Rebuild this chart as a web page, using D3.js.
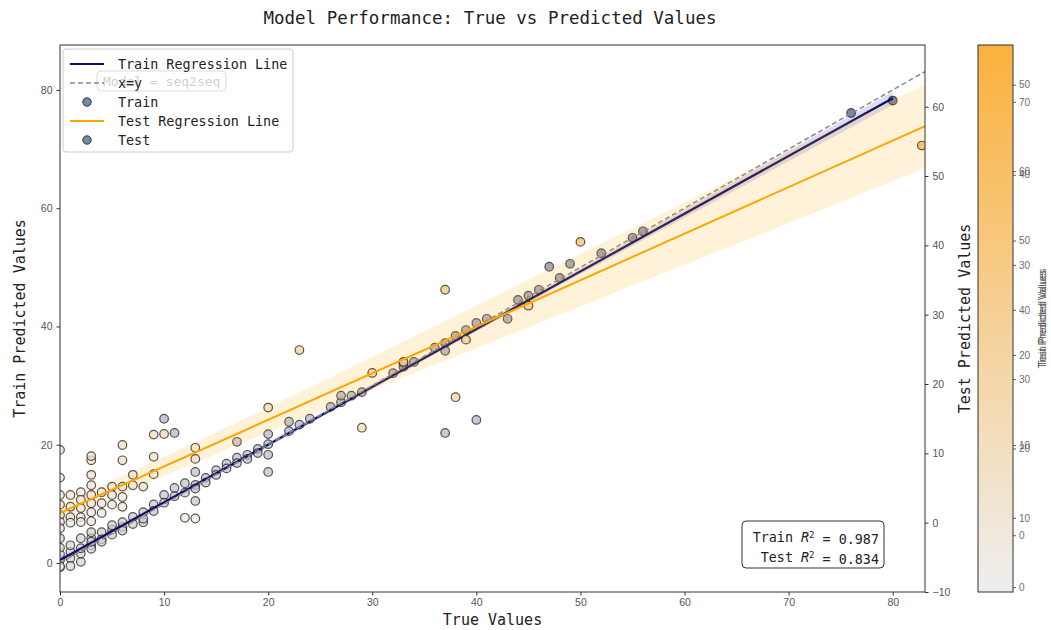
<!DOCTYPE html>
<html><head><meta charset="utf-8">
<script src="https://cdn.jsdelivr.net/npm/d3@7"></script>
<style>body{margin:0;background:#fff}svg{display:block}</style>
</head><body><svg id="c" width="1051" height="630"></svg>
<script>
// ---------- data ----------
const trainTrue = [0,0,0,0,0, 1,1,1,1, 2,2,2,2, 3,3,3,3,3, 4,4,4, 5,5,5, 6,6,6, 7,7, 8,8,8, 9,9,
  10,10,10, 11,11,11, 12,12, 13,13,13,13, 14,14, 15,15, 16,16, 17,17,17, 18,18, 19,19, 20,20,20,20,
  22,22, 23, 24, 26, 27,27, 28, 29, 32, 33,33, 34, 36, 37,37,37, 38, 39, 40,40, 41, 43, 44, 45, 46,
  47, 48, 49, 52, 55, 56, 76, 80];
const trainPred = [-0.7,0.5,1.5,2.6,4.2, 0.8,-0.5,1.9,3.0, 0.2,1.6,2.5,4.2, 3.0,4.2,2.4,5.2,3.6, 5.2,4.0,3.6, 5.6,4.8,6.4, 6.1,6.9,5.5, 7.8,6.6, 8.6,6.9,7.5, 9.9,8.8,
  11.5,10.2,24.4, 12.7,11.3,22.0, 13.5,11.9, 13.2,15.4,10.5,12.6, 14.4,13.6, 15.7,14.9, 16.8,16.0, 17.8,20.5,16.9, 18.3,17.6, 19.3,18.6, 20.1,21.8,18.3,15.4,
  22.3,23.9, 23.4, 24.4, 26.4, 27.2,28.3, 28.3, 28.9, 32.1, 33.2,33.8, 34.0, 36.4, 37.2,35.9,22.0, 38.4, 39.4, 40.6,24.2, 41.3, 41.3, 44.5, 45.2, 46.2,
  50.1, 48.2, 50.6, 52.4, 55.0, 56.1, 76.1, 78.2];

const testTrue = [0,0,0,0,0,0,0,0, 1,1,1,1, 2,2,2,2,2, 3,3,3,3,3,3,3,3, 4,4,4, 5,5,5, 6,6,6,6,6, 7,7, 8, 9,9,9, 10, 12,
  13,13,13, 20, 23, 29, 30, 33, 37, 38, 39, 45, 50, 82.8];
const testPred = [10.5,6.5,4.0,2.6,1.1,0.1,-0.8,-6.3, 4.0,2.3,0.8,0.0, 4.4,3.3,2.1,0.8,0.1, 9.0,9.6,6.9,5.4,4.0,2.8,1.5,0.2, 4.4,2.8,1.4, 5.2,4.0,2.6, 11.2,9.0,5.2,3.7,2.3, 6.9,5.4, 5.2, 12.7,9.5,7.0, 12.8, 0.7,
  10.8,9.2,0.6, 16.6, 24.9, 13.7, 21.6, 23.2, 33.6, 18.1, 26.4, 31.3, 40.5, 54.4];

const trainLineX = [0, 80], trainLineY = [0.5, 78.6];
const testLineX = [0, 83.1], testLineY = [1.4, 57.2];
const trainBandX = [0,10,20,30,40,50,60,70,80];
const trainBandHalf = [0.6,0.5,0.4,0.4,0.4,0.5,0.7,0.9,1.1];
const testBandX = [0,10,20,30,40,50,60,70,83.1];
const testBandHalf = [1.3,1.4,1.8,2.4,3.1,3.8,4.5,5.2,6.0];
const identityX = [0, 83.1];

const xTicks = [0,10,20,30,40,50,60,70,80];
const leftTicks = [0,20,40,60,80];
const rightTicks = [-10,0,10,20,30,40,50,60];
const cbTrainTicks = [0,10,20,30,40,50,60,70];
const cbTestTicks = [0,10,20,30,40,50];
const r2Train = "0.987", r2Test = "0.834";

// ---------- setup ----------
const svg = d3.select("#c");
svg.append("rect").attr("width",1051).attr("height",630).attr("fill","#fff");
const L=60,R=925,T=45,B=592;
const x = d3.scaleLinear([0,83.1],[L,R]);
const yL = d3.scaleLinear([-4.9,87.6],[B,T]);
const yR = d3.scaleLinear([-10,68.9],[B,T]);
const cbA = d3.scaleLinear([d3.min(trainPred), d3.max(trainPred)],[B,T]);
const cbB = d3.scaleLinear([d3.min(testPred), d3.max(testPred)],[B,T]);
const trainColor = d3.scaleLinear([d3.min(trainPred), 35, d3.max(trainPred)],["#d9d7cf","#98a1c0","#4c4c76"]);
const testColor = d3.scaleLinear([d3.min(testPred), d3.max(testPred)],["#efefef","#fbb13c"]);
const mono = "'DejaVu Sans Mono', monospace";
const sans = "'Liberation Sans', Arial, sans-serif";

svg.append("clipPath").attr("id","pc").append("rect").attr("x",L).attr("y",T).attr("width",R-L).attr("height",B-T);
const plot = svg.append("g").attr("clip-path","url(#pc)");

const trainFit = d3.scaleLinear(trainLineX, trainLineY);
const testFit = d3.scaleLinear(testLineX, testLineY);

// train band
const tb = trainBandX.map((v,i)=>({x:v,h:trainBandHalf[i]}));
plot.append("path").datum(tb)
  .attr("d", d3.area().curve(d3.curveMonotoneX).x(d=>x(d.x)).y0(d=>yL(trainFit(d.x)-d.h)).y1(d=>yL(trainFit(d.x)+d.h)))
  .attr("fill","#9d9dd6").attr("opacity",0.35);

// train points
const trainData = trainTrue.map((v,i)=>({x:v,y:trainPred[i]}));
plot.append("g").selectAll("circle").data(trainData).join("circle")
  .attr("cx",d=>x(d.x)).attr("cy",d=>yL(d.y)).attr("r",4.3)
  .attr("fill",d=>trainColor(d.y)).attr("fill-opacity",0.7)
  .attr("stroke","#222").attr("stroke-opacity",0.75).attr("stroke-width",1.2);

// train regression line
plot.append("path").datum(trainLineX)
  .attr("d", d3.line().x(d=>x(d)).y(d=>yL(trainFit(d))))
  .attr("stroke","#0d0d6b").attr("stroke-width",2.2).attr("fill","none");

// identity
plot.append("path").datum(identityX)
  .attr("d", d3.line().x(d=>x(d)).y(d=>yL(d)))
  .attr("stroke","#888").attr("stroke-width",1.5).attr("stroke-dasharray","5,3").attr("fill","none");

// test band
const sb = testBandX.map((v,i)=>({x:v,h:testBandHalf[i]}));
plot.append("path").datum(sb)
  .attr("d", d3.area().curve(d3.curveMonotoneX).x(d=>x(d.x)).y0(d=>yR(testFit(d.x)-d.h)).y1(d=>yR(testFit(d.x)+d.h)))
  .attr("fill","#ffa500").attr("opacity",0.15);

// test points
const testData = testTrue.map((v,i)=>({x:v,y:testPred[i]}));
plot.append("g").selectAll("circle").data(testData).join("circle")
  .attr("cx",d=>x(d.x)).attr("cy",d=>yR(d.y)).attr("r",4.3)
  .attr("fill",d=>testColor(d.y)).attr("fill-opacity",0.75)
  .attr("stroke","#222").attr("stroke-opacity",0.75).attr("stroke-width",1.2);

// test regression line
plot.append("path").datum(testLineX)
  .attr("d", d3.line().x(d=>x(d)).y(d=>yR(testFit(d))))
  .attr("stroke","#ffa500").attr("stroke-width",2).attr("fill","none");

// frame
svg.append("rect").attr("x",L).attr("y",T).attr("width",R-L).attr("height",B-T)
  .attr("fill","none").attr("stroke","#333").attr("stroke-width",1);

// axes
function styleAxis(g){
  g.select(".domain").remove();
  g.selectAll(".tick line").attr("stroke","#333");
  g.selectAll(".tick text").attr("fill","#555").style("font-family",sans).style("font-size","10.5px");
}
svg.append("g").attr("transform",`translate(0,${B})`)
  .call(d3.axisBottom(x).tickValues(xTicks).tickSize(3.5).tickPadding(3)).call(styleAxis);
svg.append("g").attr("transform",`translate(${L},0)`)
  .call(d3.axisLeft(yL).tickValues(leftTicks).tickSize(3.5).tickPadding(4)).call(styleAxis);
svg.append("g").attr("transform",`translate(${R},0)`)
  .call(d3.axisRight(yR).tickValues(rightTicks).tickSize(3.5).tickPadding(4).tickFormat(d3.format("d"))).call(styleAxis);

// labels
svg.append("text").attr("x",490).attr("y",24).attr("text-anchor","middle")
  .style("font-family",mono).style("font-size","17.5px").attr("fill","#222")
  .text("Model Performance: True vs Predicted Values");
svg.append("text").attr("x",(L+R)/2).attr("y",625).attr("text-anchor","middle")
  .style("font-family",mono).style("font-size","15px").attr("fill","#222").text("True Values");
svg.append("text").attr("transform",`translate(25,${(T+B)/2}) rotate(-90)`).attr("text-anchor","middle")
  .style("font-family",mono).style("font-size","15px").attr("fill","#222").text("Train Predicted Values");
svg.append("text").attr("transform",`translate(970,${(T+B)/2}) rotate(-90)`).attr("text-anchor","middle")
  .style("font-family",mono).style("font-size","15px").attr("fill","#222").text("Test Predicted Values");

// colorbar
const CX0=978, CX1=1013;
const defs = svg.append("defs");
const grad = defs.append("linearGradient").attr("id","cbg").attr("x1",0).attr("y1",1).attr("x2",0).attr("y2",0);
const stops = d3.range(0,1.0001,0.1);
grad.selectAll("stop").data(stops).join("stop")
  .attr("offset",d=>d).attr("stop-color",d=>testColor(cbB.invert(B-(B-T)*d)));
svg.append("rect").attr("x",CX0).attr("y",T).attr("width",CX1-CX0).attr("height",B-T)
  .attr("fill","url(#cbg)").attr("stroke","#333").attr("stroke-width",1);
function styleCb(g){
  g.select(".domain").remove();
  g.selectAll(".tick line").attr("stroke","#444");
  g.selectAll(".tick text").attr("fill","#555").style("font-family",sans).style("font-size","10px");
}
svg.append("g").attr("transform",`translate(${CX1},0)`).attr("opacity",0.85)
  .call(d3.axisRight(cbA).tickValues(cbTrainTicks).tickSize(3).tickPadding(3)).call(styleCb);
svg.append("g").attr("transform",`translate(${CX1},0)`).attr("opacity",0.85)
  .call(d3.axisRight(cbB).tickValues(cbTestTicks).tickSize(3).tickPadding(3)).call(styleCb);
svg.append("text").attr("transform",`translate(1046,${(T+B)/2}) rotate(-90)`).attr("text-anchor","middle")
  .style("font-family",sans).style("font-size","10px").attr("fill","#444").attr("opacity",0.8).text("Train Predicted Values");
svg.append("text").attr("transform",`translate(1046,${(T+B)/2}) rotate(-90)`).attr("text-anchor","middle")
  .style("font-family",sans).style("font-size","10px").attr("fill","#444").attr("opacity",0.8).text("Test Predicted Values");

// legend
const lg = svg.append("g");
lg.append("rect").attr("x",63).attr("y",49).attr("width",230).attr("height",103).attr("rx",3)
  .attr("fill","#fff").attr("fill-opacity",0.85).attr("stroke","#ccc");
const items = [
  {t:"Train Regression Line", k:"line", c:"#0d0d6b"},
  {t:"x=y", k:"dash", c:"#888"},
  {t:"Train", k:"dot"},
  {t:"Test Regression Line", k:"line", c:"#ffa500"},
  {t:"Test", k:"dot"}
];
items.forEach((it,i)=>{
  const yy = 64 + i*19;
  if(it.k==="line") lg.append("line").attr("x1",70).attr("x2",104).attr("y1",yy).attr("y2",yy).attr("stroke",it.c).attr("stroke-width",2);
  if(it.k==="dash") lg.append("line").attr("x1",70).attr("x2",104).attr("y1",yy).attr("y2",yy).attr("stroke",it.c).attr("stroke-width",1.5).attr("stroke-dasharray","5,3");
  if(it.k==="dot") lg.append("circle").attr("cx",87).attr("cy",yy).attr("r",4.2).attr("fill","#6f8caa").attr("stroke","#333").attr("stroke-width",1);
  lg.append("text").attr("x",118).attr("y",yy).attr("dy","0.35em")
    .style("font-family",mono).style("font-size","13.4px").attr("fill","#222").text(it.t);
});
// faint model annotation
const mg = svg.append("g").attr("opacity",0.35);
mg.append("rect").attr("x",97).attr("y",71).attr("width",129).attr("height",20).attr("rx",4)
  .attr("fill","none").attr("stroke","#999");
mg.append("text").attr("x",103).attr("y",81).attr("dy","0.35em")
  .style("font-family",mono).style("font-size","13px").attr("fill","#777").text("Model = seq2seq");

// R2 box
const rb = svg.append("g");
rb.append("rect").attr("x",742).attr("y",521).attr("width",142).attr("height",47).attr("rx",4)
  .attr("fill","#fff").attr("stroke","#333").attr("stroke-width",1);
[[ "Train ", r2Train, 537],[ "Test ", r2Test, 557]].forEach(([lab,val,yy])=>{
  const t = rb.append("text").attr("x",879).attr("y",yy).attr("dy","0.35em").attr("text-anchor","end")
    .style("font-family",mono).style("font-size","13.4px").attr("fill","#222");
  t.append("tspan").text(lab);
  t.append("tspan").style("font-style","italic").text("R");
  t.append("tspan").attr("dy","-0.45em").style("font-size","9px").text("2");
  t.append("tspan").attr("dy","0.45em").text(" = " + val);
});
</script></body></html>
